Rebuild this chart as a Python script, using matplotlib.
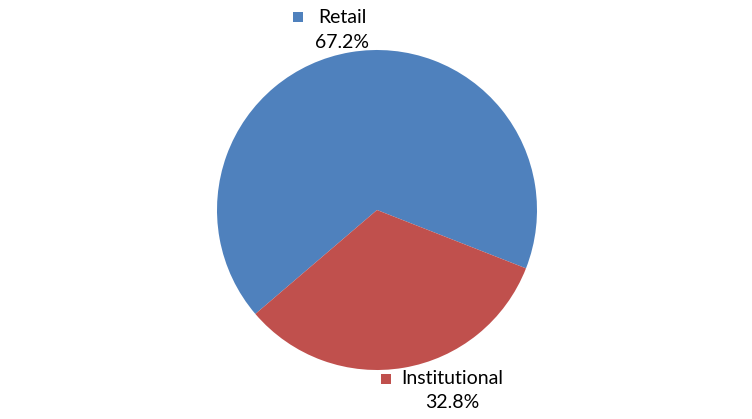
import matplotlib
matplotlib.use("Agg")
import matplotlib.pyplot as plt

categories = ["Retail", "Institutional"]
values = [67.2, 32.8]
colors = ["#4F81BD", "#C0504D"]

W, H = 752, 419
fig = plt.figure(figsize=(W / 100, H / 100), dpi=100)
ax = fig.add_axes([0, 0, 1, 1])
ax.set_xlim(0, W)
ax.set_ylim(0, H)
ax.set_aspect("equal")
ax.axis("off")

ax.pie(values, colors=colors, startangle=-21.4, counterclock=True,
       center=(377, 209), radius=160, frame=True,
       wedgeprops=dict(linewidth=0))
ax.set_xlim(0, W)
ax.set_ylim(0, H)
ax.axis("off")

font = "Lato"
fs = 14
# Retail label (top)
ax.add_patch(plt.Rectangle((293, H - 22), 10, 10, color=colors[0], lw=0))
ax.text(318, H - 17, categories[0], fontsize=fs, family=font, va="center", ha="left")
ax.text(342, H - 42, f"{values[0]:.1f}%", fontsize=fs, family=font, va="center", ha="center")
# Institutional label (bottom)
ax.add_patch(plt.Rectangle((381, H - 384), 10, 10, color=colors[1], lw=0))
ax.text(401, H - 379, categories[1], fontsize=fs, family=font, va="center", ha="left")
ax.text(452, H - 402, f"{values[1]:.1f}%", fontsize=fs, family=font, va="center", ha="center")

fig.savefig("out.png", dpi=100)
